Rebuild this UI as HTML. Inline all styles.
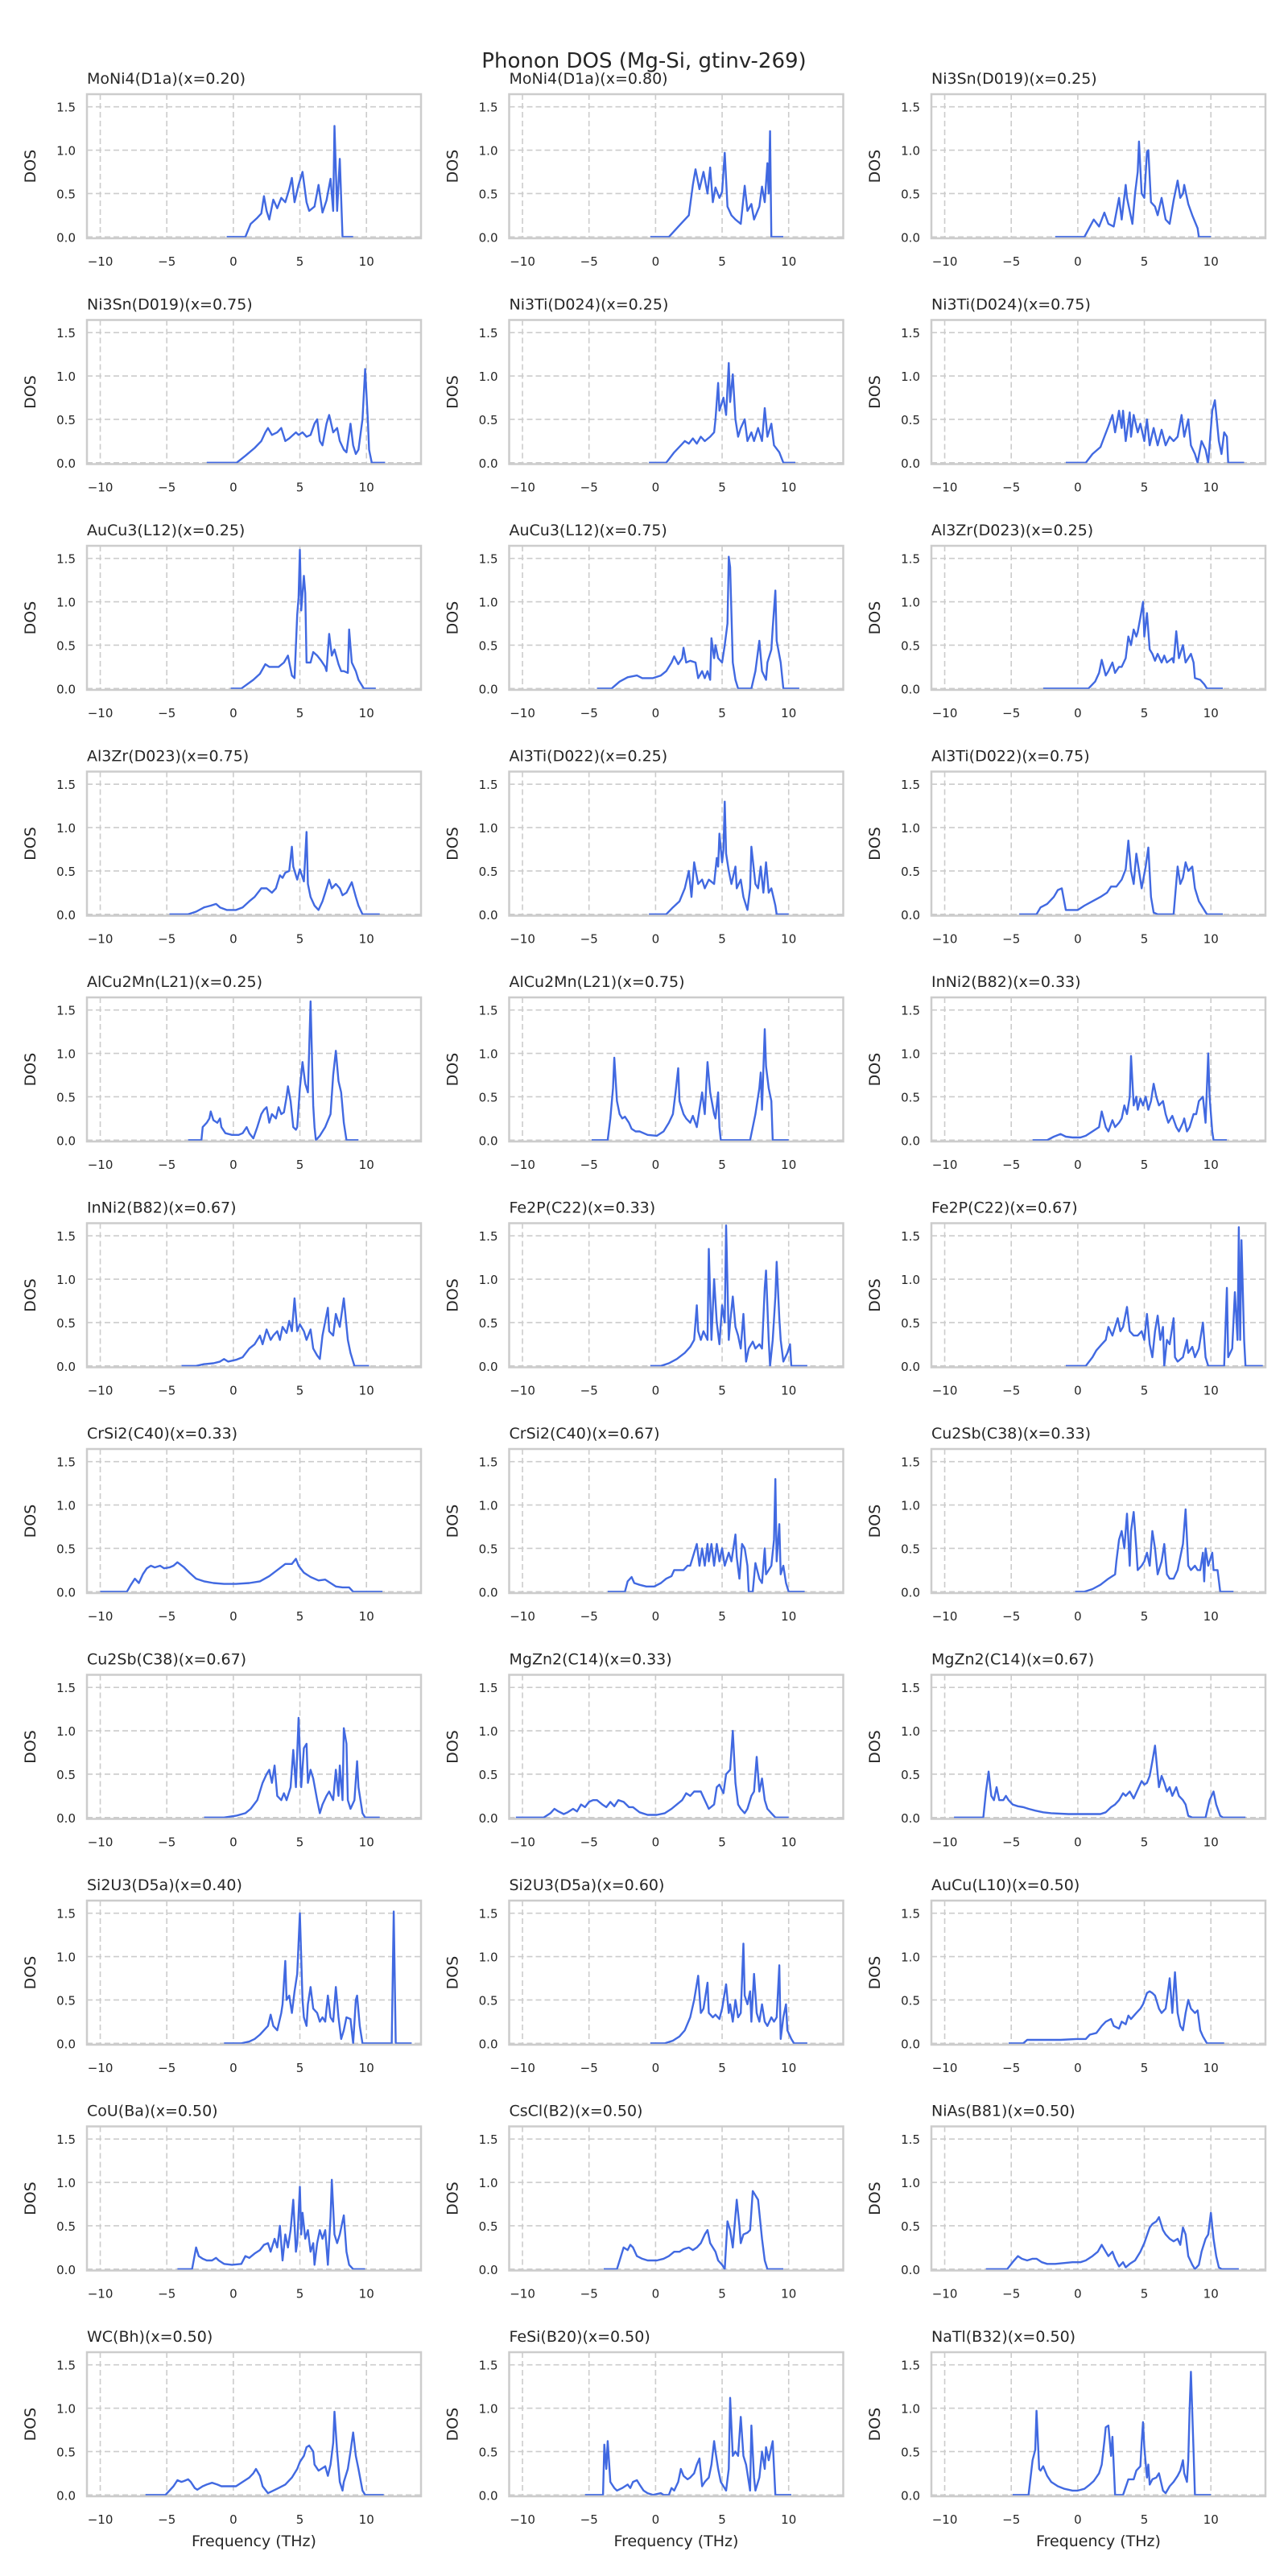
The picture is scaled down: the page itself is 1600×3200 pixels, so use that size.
<!DOCTYPE html>
<html><head><meta charset="utf-8">
<style>
html,body{margin:0;padding:0;background:#fff;}
svg{display:block;font-family:"DejaVu Sans","Liberation Sans",sans-serif;}
</style></head>
<body>
<svg id="fig" width="1600" height="3200" viewBox="0 0 1600 3200">
<rect width="1600" height="3200" fill="#ffffff"/>
<text x="800" y="84" text-anchor="middle" font-size="26" fill="#262626">Phonon DOS (Mg-Si, gtinv-269)</text>
</svg>
<script>
const titles = ["MoNi4(D1a)(x=0.20)","MoNi4(D1a)(x=0.80)","Ni3Sn(D019)(x=0.25)","Ni3Sn(D019)(x=0.75)","Ni3Ti(D024)(x=0.25)","Ni3Ti(D024)(x=0.75)","AuCu3(L12)(x=0.25)","AuCu3(L12)(x=0.75)","Al3Zr(D023)(x=0.25)","Al3Zr(D023)(x=0.75)","Al3Ti(D022)(x=0.25)","Al3Ti(D022)(x=0.75)","AlCu2Mn(L21)(x=0.25)","AlCu2Mn(L21)(x=0.75)","InNi2(B82)(x=0.33)","InNi2(B82)(x=0.67)","Fe2P(C22)(x=0.33)","Fe2P(C22)(x=0.67)","CrSi2(C40)(x=0.33)","CrSi2(C40)(x=0.67)","Cu2Sb(C38)(x=0.33)","Cu2Sb(C38)(x=0.67)","MgZn2(C14)(x=0.33)","MgZn2(C14)(x=0.67)","Si2U3(D5a)(x=0.40)","Si2U3(D5a)(x=0.60)","AuCu(L10)(x=0.50)","CoU(Ba)(x=0.50)","CsCl(B2)(x=0.50)","NiAs(B81)(x=0.50)","WC(Bh)(x=0.50)","FeSi(B20)(x=0.50)","NaTl(B32)(x=0.50)"];
const xTicks = [-10,-5,0,5,10];
const xTickLabels = ["\u221210","\u22125","0","5","10"];
const yTicks = [0,0.5,1.0,1.5];
const yTickLabels = ["0.0","0.5","1.0","1.5"];
const xDomain = [-11,14.1];
const yDomain = [-0.016,1.646];
const freqs = [
[-0.5,0.9,1.3,1.8,2.1,2.3,2.5,2.7,3.0,3.3,3.6,3.9,4.2,4.4,4.6,4.9,5.2,5.5,5.7,6.1,6.4,6.7,7.0,7.3,7.5,7.6,7.8,8.0,8.2,9.0],
[-0.4,1.0,1.9,2.5,2.8,3.0,3.3,3.6,3.9,4.1,4.3,4.5,4.8,5.0,5.2,5.4,5.7,6.0,6.4,6.7,6.9,7.2,7.4,7.8,8.0,8.2,8.4,8.5,8.6,8.7,9.6],
[-1.7,0.5,1.2,1.6,2.0,2.3,2.7,3.1,3.3,3.6,3.7,4.1,4.3,4.5,4.6,4.8,5.0,5.2,5.3,5.5,5.8,6.0,6.3,6.6,6.9,7.2,7.5,7.7,7.9,8.0,8.3,8.6,9.0,9.1,10.0],
[-2.0,0.25,0.9,1.6,2.1,2.4,2.6,2.9,3.3,3.6,3.9,4.2,4.7,4.9,5.2,5.5,5.8,6.1,6.3,6.5,6.7,7.0,7.2,7.5,7.8,8.0,8.3,8.5,8.8,9.0,9.2,9.4,9.7,9.9,10.1,10.2,10.4,11.4],
[-0.5,0.8,1.4,1.9,2.2,2.5,2.8,3.1,3.4,3.7,4.1,4.4,4.5,4.7,4.8,5.1,5.3,5.5,5.6,5.8,6.0,6.2,6.4,6.7,6.9,7.2,7.4,7.7,8.0,8.2,8.4,8.7,8.9,9.3,9.6,10.5],
[-0.9,0.6,1.1,1.7,2.0,2.3,2.6,2.8,3.1,3.3,3.4,3.6,3.9,4.0,4.2,4.5,4.7,5.0,5.2,5.4,5.7,6.0,6.3,6.6,6.9,7.2,7.5,7.8,8.0,8.3,8.5,8.8,9.0,9.3,9.6,9.8,10.1,10.3,10.6,10.8,11.0,11.2,11.3,12.5],
[-0.2,0.6,1.5,2.0,2.4,2.7,3.0,3.4,3.8,4.1,4.4,4.6,4.8,4.9,5.0,5.1,5.3,5.4,5.5,5.8,6.0,6.3,6.6,6.9,7.0,7.2,7.4,7.6,7.9,8.1,8.3,8.6,8.7,8.9,9.2,9.4,9.8,10.7],
[-4.4,-3.3,-2.7,-2.1,-1.4,-1.0,-0.2,0.4,0.8,1.2,1.4,1.7,2.0,2.1,2.3,2.6,3.0,3.2,3.5,3.7,3.9,4.1,4.2,4.4,4.5,4.7,5.0,5.2,5.4,5.5,5.6,5.8,6.0,6.2,7.2,7.5,7.8,8.0,8.3,8.4,8.7,8.8,9.0,9.1,9.4,9.6,10.8],
[-2.6,0.8,1.3,1.6,1.8,2.1,2.3,2.6,2.8,3.1,3.3,3.6,3.8,4.0,4.2,4.4,4.5,4.7,4.9,5.0,5.2,5.4,5.6,5.8,6.0,6.3,6.5,6.7,7.1,7.2,7.4,7.6,7.9,8.1,8.5,8.7,8.8,9.2,9.5,9.7,10.9],
[-4.8,-3.4,-2.8,-2.2,-1.7,-1.3,-1.0,-0.5,0.2,0.7,1.2,1.6,2.1,2.5,2.9,3.2,3.5,3.7,3.9,4.2,4.4,4.5,4.8,5.0,5.3,5.5,5.6,5.8,6.1,6.4,6.7,6.9,7.2,7.4,7.7,8.0,8.2,8.5,8.9,9.2,9.4,9.7,11.0],
[-0.5,0.8,1.3,1.8,2.2,2.5,2.7,2.9,3.2,3.5,3.7,4.0,4.4,4.6,4.7,4.8,5.0,5.1,5.2,5.3,5.5,5.7,6.0,6.1,6.4,6.6,6.9,7.1,7.2,7.5,7.7,7.9,8.1,8.3,8.5,8.7,9.0,9.1,10.0],
[-4.4,-3.1,-2.8,-2.3,-1.8,-1.5,-1.2,-0.9,-0.6,0.0,0.5,1.1,1.7,2.2,2.5,2.9,3.3,3.6,3.8,4.0,4.2,4.4,4.7,4.8,5.1,5.3,5.5,5.7,6.0,7.2,7.5,7.7,7.9,8.1,8.3,8.6,8.8,9.1,9.5,9.7,10.9],
[-3.4,-2.4,-2.3,-2.0,-1.8,-1.7,-1.5,-1.2,-1.0,-0.9,-0.6,-0.1,0.4,0.7,1.0,1.2,1.5,1.8,2.1,2.3,2.5,2.7,2.9,3.2,3.4,3.6,3.8,4.0,4.1,4.3,4.5,4.7,4.8,5.0,5.2,5.4,5.6,5.8,6.0,6.1,6.2,6.5,6.9,7.3,7.5,7.7,7.9,8.1,8.3,8.5,9.4],
[-4.8,-3.6,-3.4,-3.2,-3.1,-2.9,-2.7,-2.5,-2.3,-2.0,-1.8,-1.5,-1.2,-0.6,0.1,0.6,1.0,1.3,1.5,1.7,1.8,2.1,2.3,2.6,2.8,3.1,3.3,3.5,3.7,3.9,4.1,4.4,4.5,4.7,4.8,4.9,7.1,7.5,7.8,7.9,8.0,8.2,8.3,8.5,8.7,8.8,10.0],
[-3.4,-2.3,-1.8,-1.3,-0.9,-0.4,0.2,0.6,1.1,1.6,1.8,2.1,2.3,2.6,2.8,3.1,3.3,3.5,3.7,3.9,4.0,4.2,4.4,4.5,4.7,4.9,5.1,5.3,5.5,5.7,5.9,6.1,6.4,6.6,6.8,7.1,7.4,7.6,7.9,8.0,8.2,8.4,8.7,8.9,9.1,9.4,9.6,9.8,9.9,10.1,10.2,11.2],
[-3.9,-2.8,-2.2,-1.5,-1.0,-0.7,-0.4,0.2,0.7,1.2,1.6,2.0,2.2,2.5,2.8,3.0,3.3,3.5,3.7,4.0,4.2,4.4,4.6,4.8,5.0,5.3,5.5,5.8,6.0,6.3,6.5,6.7,7.1,7.2,7.5,7.7,8.0,8.3,8.6,8.8,9.1,10.2],
[-0.4,0.4,1.0,1.6,2.2,2.6,2.9,3.1,3.2,3.4,3.6,3.9,4.0,4.2,4.4,4.6,4.8,5.0,5.2,5.3,5.5,5.6,5.8,6.0,6.2,6.4,6.6,6.8,7.0,7.3,7.5,7.8,8.0,8.2,8.3,8.5,8.6,8.8,9.0,9.1,9.3,9.4,9.6,9.9,10.1,10.2,11.4],
[-0.9,0.6,1.1,1.4,1.8,2.1,2.3,2.6,2.8,3.0,3.2,3.4,3.7,3.9,4.2,4.5,4.8,5.0,5.2,5.4,5.6,5.8,6.0,6.2,6.4,6.5,6.7,6.9,7.2,7.3,7.5,7.9,8.2,8.3,8.6,8.8,9.1,9.4,9.6,9.8,11.0,11.2,11.3,11.6,11.8,12.0,12.1,12.2,12.3,12.5,12.6,13.9],
[-10.0,-8.0,-7.7,-7.4,-7.1,-6.8,-6.5,-6.2,-5.9,-5.5,-5.2,-4.8,-4.5,-4.2,-3.7,-3.3,-2.8,-2.2,-1.5,-0.7,0.2,1.2,2.0,2.7,3.3,3.9,4.4,4.7,4.9,5.3,5.8,6.4,6.9,7.3,7.7,8.2,8.7,9.0,11.2],
[-3.6,-2.3,-2.1,-1.8,-1.6,-1.2,-0.7,-0.1,0.4,0.8,1.2,1.4,1.8,2.1,2.4,2.6,2.9,3.1,3.3,3.5,3.7,3.9,4.0,4.2,4.4,4.6,4.8,5.0,5.2,5.5,5.7,6.0,6.1,6.3,6.5,6.7,6.9,7.0,7.3,7.5,7.8,8.0,8.2,8.3,8.5,8.7,8.9,9.0,9.1,9.3,9.4,9.6,9.8,10.0,11.2],
[-0.2,0.5,1.1,1.7,2.3,2.8,2.9,3.1,3.3,3.5,3.7,3.9,4.0,4.2,4.4,4.5,4.8,5.0,5.2,5.4,5.6,5.8,6.0,6.3,6.5,6.7,6.9,7.2,7.5,7.7,7.9,8.1,8.3,8.5,8.8,9.0,9.2,9.4,9.5,9.6,9.8,10.1,10.2,10.5,10.7,11.7],
[-2.2,-0.7,0.2,0.9,1.3,1.8,2.2,2.5,2.7,2.9,3.1,3.3,3.6,3.8,4.0,4.3,4.5,4.7,4.9,5.1,5.3,5.5,5.6,5.8,6.0,6.3,6.5,6.7,7.0,7.2,7.5,7.7,7.9,8.0,8.2,8.3,8.5,8.6,8.8,9.1,9.3,9.4,9.7,9.9,11.0],
[-10.5,-8.4,-7.9,-7.6,-7.3,-6.9,-6.6,-6.2,-5.9,-5.6,-5.3,-5.0,-4.7,-4.4,-4.0,-3.7,-3.4,-3.1,-2.8,-2.4,-2.0,-1.7,-1.2,-0.6,0.1,0.7,1.2,1.6,2.0,2.3,2.6,2.9,3.1,3.4,3.7,4.0,4.4,4.6,4.8,5.1,5.3,5.6,5.8,6.0,6.2,6.4,6.7,6.9,7.2,7.4,7.6,7.8,8.0,8.2,8.4,8.7,9.0,10.0],
[-9.3,-7.1,-6.9,-6.7,-6.5,-6.3,-6.1,-5.9,-5.6,-5.4,-5.2,-4.9,-4.5,-4.1,-3.7,-3.2,-2.6,-2.0,-0.7,1.7,2.1,2.5,2.8,3.1,3.4,3.6,3.9,4.2,4.5,4.8,5.0,5.2,5.4,5.6,5.8,6.0,6.1,6.3,6.5,6.7,6.9,7.1,7.4,7.6,7.9,8.1,8.3,8.6,9.6,9.9,10.2,10.4,10.7,10.9,12.6],
[-0.7,0.6,1.2,1.6,2.0,2.3,2.6,2.8,3.0,3.3,3.6,3.7,3.9,4.0,4.2,4.4,4.6,4.8,5.0,5.2,5.3,5.5,5.6,5.8,6.0,6.3,6.5,6.7,6.9,7.1,7.3,7.5,7.7,7.9,8.1,8.3,8.5,8.8,9.0,9.2,9.3,9.5,9.7,11.9,12.05,12.2,13.4],
[-0.4,0.7,1.3,1.8,2.2,2.6,2.9,3.2,3.4,3.6,3.9,4.0,4.3,4.5,4.8,5.0,5.3,5.5,5.6,5.8,6.0,6.2,6.4,6.6,6.7,6.9,7.1,7.2,7.4,7.6,7.8,8.0,8.2,8.4,8.7,8.9,9.1,9.3,9.4,9.6,9.8,9.9,10.2,10.4,11.4],
[-5.2,-4.1,-3.8,-2.6,-1.3,-0.1,0.6,0.9,1.4,1.8,2.1,2.5,2.7,3.1,3.3,3.6,3.8,4.0,4.4,4.7,4.9,5.2,5.4,5.6,5.8,6.1,6.3,6.6,6.7,6.9,7.1,7.3,7.5,7.7,7.9,8.1,8.3,8.5,8.8,9.0,9.2,9.4,9.7,11.0],
[-4.2,-3.1,-2.8,-2.6,-2.3,-2.0,-1.6,-1.3,-1.1,-0.7,-0.1,0.6,0.9,1.2,1.6,2.0,2.3,2.6,2.8,3.1,3.3,3.5,3.7,3.9,4.1,4.3,4.5,4.7,4.8,5.0,5.1,5.2,5.4,5.6,5.8,6.0,6.1,6.3,6.5,6.7,6.9,7.1,7.3,7.4,7.6,7.8,8.0,8.2,8.3,8.5,8.7,9.0,9.9],
[-3.9,-2.9,-2.6,-2.4,-2.1,-1.9,-1.7,-1.4,-1.0,-0.6,0.1,0.6,1.0,1.4,1.8,2.1,2.5,2.8,3.1,3.4,3.7,3.9,4.1,4.3,4.5,4.7,5.0,5.2,5.4,5.6,5.8,6.1,6.3,6.4,6.6,6.9,7.1,7.3,7.5,7.7,8.0,8.2,8.4,9.6],
[-6.9,-5.3,-4.9,-4.5,-4.2,-3.8,-3.4,-3.1,-2.7,-2.3,-1.7,-1.0,-0.4,0.2,0.6,1.1,1.5,1.8,2.1,2.3,2.6,2.8,3.1,3.4,3.6,3.9,4.3,4.7,5.0,5.4,5.6,5.9,6.1,6.4,6.6,6.9,7.2,7.5,7.7,7.9,8.1,8.3,8.6,8.8,9.1,9.3,9.6,9.8,10.0,10.2,10.4,10.6,10.8,12.1],
[-6.6,-5.1,-4.8,-4.5,-4.2,-3.9,-3.7,-3.4,-3.2,-2.9,-2.7,-2.3,-2.0,-1.6,-1.2,-0.9,-0.4,0.2,0.7,1.2,1.5,1.7,2.0,2.2,2.6,3.0,3.4,3.9,4.4,4.8,5.0,5.3,5.5,5.7,6.0,6.1,6.4,6.6,6.9,7.1,7.3,7.5,7.6,7.8,8.0,8.2,8.3,8.6,8.8,9.0,9.2,9.4,9.7,9.9,11.3],
[-5.3,-3.95,-3.85,-3.7,-3.6,-3.4,-3.1,-2.9,-2.5,-2.1,-1.9,-1.7,-1.4,-1.2,-0.9,-0.6,-0.2,0.4,0.6,1.0,1.2,1.4,1.7,1.9,2.1,2.4,2.6,2.9,3.1,3.3,3.5,3.7,4.0,4.2,4.4,4.5,4.7,4.9,5.1,5.3,5.5,5.6,5.8,6.0,6.2,6.4,6.6,6.8,6.9,7.1,7.2,7.4,7.5,7.8,8.0,8.2,8.3,8.5,8.7,8.8,9.0,10.2],
[-4.9,-3.7,-3.4,-3.2,-3.1,-2.9,-2.8,-2.6,-2.3,-2.0,-1.5,-1.0,-0.4,0.0,0.5,0.9,1.2,1.6,1.8,2.0,2.1,2.3,2.5,2.6,2.8,3.4,3.8,4.2,4.4,4.7,4.8,4.9,5.0,5.2,5.3,5.4,5.6,5.9,6.1,6.4,6.6,6.9,7.2,7.5,7.7,7.9,8.0,8.2,8.3,8.4,8.5,8.7,8.8,10.0]
];
const dos = [
[0,0,0.15,0.22,0.27,0.47,0.3,0.2,0.43,0.33,0.45,0.4,0.55,0.68,0.4,0.6,0.75,0.4,0.3,0.35,0.6,0.28,0.42,0.67,0.3,1.28,0.3,0.9,0,0],
[0,0,0.15,0.25,0.6,0.78,0.55,0.75,0.5,0.8,0.4,0.57,0.45,0.52,0.97,0.35,0.25,0.2,0.15,0.59,0.3,0.38,0.2,0.35,0.58,0.4,0.85,0.5,1.22,0,0],
[0,0,0.2,0.12,0.28,0.15,0.12,0.45,0.2,0.6,0.45,0.15,0.5,0.75,1.1,0.5,0.45,0.98,1.0,0.4,0.35,0.25,0.45,0.2,0.15,0.42,0.65,0.45,0.5,0.6,0.38,0.25,0.1,0,0],
[0,0,0.08,0.17,0.25,0.35,0.4,0.32,0.35,0.4,0.25,0.28,0.35,0.32,0.35,0.3,0.32,0.45,0.5,0.25,0.2,0.45,0.55,0.35,0.4,0.25,0.15,0.12,0.45,0.2,0.1,0.15,0.5,1.08,0.5,0.15,0,0],
[0,0,0.12,0.2,0.25,0.22,0.28,0.22,0.3,0.25,0.3,0.35,0.5,0.92,0.6,0.75,0.55,1.15,0.7,1.02,0.5,0.3,0.4,0.5,0.25,0.35,0.25,0.4,0.25,0.63,0.3,0.45,0.2,0.12,0,0],
[0,0,0.1,0.18,0.3,0.42,0.55,0.35,0.6,0.4,0.6,0.25,0.58,0.3,0.55,0.35,0.45,0.25,0.5,0.2,0.4,0.2,0.38,0.2,0.3,0.25,0.3,0.55,0.3,0.5,0.2,0.1,0,0.25,0.15,0,0.6,0.72,0.25,0.1,0.35,0.3,0,0],
[0,0,0.1,0.17,0.28,0.25,0.25,0.25,0.3,0.38,0.15,0.12,0.85,1.05,1.6,0.9,1.3,1.1,0.3,0.3,0.42,0.38,0.32,0.25,0.2,0.63,0.38,0.45,0.28,0.2,0.2,0.18,0.68,0.3,0.2,0.1,0,0],
[0,0,0.08,0.13,0.15,0.12,0.12,0.15,0.2,0.3,0.37,0.28,0.35,0.47,0.3,0.32,0.3,0.12,0.2,0.12,0.2,0.1,0.58,0.35,0.5,0.35,0.3,0.5,0.75,1.52,1.4,0.3,0.1,0,0,0.2,0.55,0.2,0.1,0.3,0.45,0.7,1.13,0.55,0.3,0,0],
[0,0,0.08,0.18,0.33,0.15,0.2,0.3,0.18,0.25,0.25,0.35,0.6,0.5,0.68,0.6,0.65,0.82,1.0,0.6,0.87,0.45,0.4,0.32,0.4,0.3,0.38,0.3,0.35,0.3,0.66,0.35,0.5,0.3,0.4,0.3,0.12,0.1,0.05,0,0],
[0,0,0.03,0.08,0.1,0.12,0.08,0.05,0.05,0.08,0.15,0.2,0.3,0.3,0.25,0.3,0.45,0.42,0.48,0.5,0.78,0.55,0.4,0.52,0.38,0.95,0.35,0.2,0.1,0.05,0.15,0.25,0.4,0.3,0.35,0.3,0.22,0.25,0.37,0.2,0.1,0,0],
[0,0,0.08,0.15,0.3,0.5,0.2,0.6,0.35,0.4,0.3,0.4,0.35,0.65,0.55,0.93,0.6,0.75,1.3,0.7,0.5,0.35,0.55,0.3,0.4,0.2,0.05,0.3,0.78,0.35,0.3,0.55,0.25,0.6,0.25,0.3,0.1,0,0],
[0,0,0.08,0.12,0.2,0.28,0.3,0.05,0.05,0.05,0.1,0.15,0.2,0.25,0.32,0.32,0.4,0.52,0.85,0.5,0.35,0.7,0.4,0.3,0.55,0.77,0.2,0.02,0,0,0.55,0.35,0.42,0.6,0.5,0.55,0.3,0.15,0.05,0,0],
[0,0,0.15,0.2,0.25,0.33,0.23,0.2,0.25,0.15,0.08,0.06,0.06,0.08,0.15,0.08,0.02,0.15,0.3,0.35,0.38,0.2,0.3,0.25,0.38,0.3,0.32,0.5,0.62,0.45,0.15,0.12,0.15,0.6,0.9,0.65,0.55,1.6,0.4,0.15,0,0.05,0.15,0.3,0.75,1.03,0.68,0.55,0.2,0,0],
[0,0,0.25,0.6,0.95,0.45,0.3,0.25,0.27,0.2,0.13,0.1,0.1,0.06,0.05,0.1,0.2,0.3,0.55,0.83,0.45,0.3,0.25,0.2,0.28,0.15,0.35,0.55,0.3,0.9,0.55,0.3,0.25,0.55,0.15,0,0,0.3,0.6,0.78,0.35,1.28,0.85,0.6,0.45,0,0],
[0,0,0.04,0.07,0.04,0.03,0.03,0.05,0.1,0.15,0.33,0.15,0.1,0.23,0.15,0.2,0.25,0.4,0.3,0.5,0.97,0.4,0.5,0.35,0.48,0.4,0.5,0.35,0.45,0.65,0.5,0.4,0.45,0.3,0.2,0.28,0.15,0.1,0.2,0.25,0.1,0.15,0.3,0.3,0.45,0.5,0.2,1.0,0.5,0.1,0,0],
[0,0,0.02,0.03,0.05,0.08,0.05,0.07,0.1,0.2,0.25,0.35,0.25,0.42,0.3,0.35,0.4,0.3,0.45,0.38,0.52,0.4,0.78,0.4,0.48,0.4,0.3,0.42,0.2,0.12,0.08,0.35,0.67,0.4,0.35,0.6,0.45,0.78,0.3,0.15,0,0],
[0,0,0.03,0.08,0.15,0.22,0.3,0.7,0.4,0.3,0.4,0.3,1.35,0.3,1.0,0.5,0.25,0.7,0.5,1.62,0.3,0.5,0.8,0.45,0.35,0.2,0.6,0.05,0.2,0.28,0.2,0.25,0.2,0.9,1.1,0.3,0,0.3,0.8,1.2,0.55,0.3,0.05,0.15,0.25,0,0],
[0,0,0.1,0.18,0.25,0.3,0.45,0.35,0.45,0.55,0.4,0.45,0.68,0.4,0.35,0.35,0.4,0.3,0.6,0.25,0.1,0.4,0.58,0.3,0.45,0,0.3,0.25,0.55,0.1,0.05,0.1,0.3,0.15,0.22,0.1,0.2,0.5,0.1,0,0,0.9,0.1,0.2,0.85,0.3,1.6,0.3,1.45,0.3,0,0],
[0,0,0.08,0.15,0.1,0.2,0.27,0.3,0.28,0.3,0.27,0.28,0.3,0.34,0.28,0.22,0.15,0.12,0.1,0.09,0.09,0.1,0.12,0.18,0.25,0.32,0.32,0.38,0.3,0.22,0.17,0.13,0.14,0.1,0.06,0.05,0.05,0,0],
[0,0,0.12,0.17,0.1,0.08,0.06,0.06,0.1,0.15,0.18,0.25,0.25,0.25,0.3,0.3,0.45,0.55,0.3,0.5,0.3,0.55,0.35,0.55,0.3,0.55,0.35,0.5,0.3,0.45,0.35,0.66,0.4,0.15,0.55,0.5,0.3,0,0,0.33,0.15,0.1,0.5,0.2,0.25,0.3,0.6,1.3,0.35,0.78,0.2,0.3,0.1,0,0],
[0,0,0.03,0.08,0.15,0.2,0.35,0.6,0.7,0.5,0.9,0.3,0.7,0.92,0.5,0.25,0.3,0.35,0.45,0.3,0.7,0.5,0.2,0.35,0.55,0.2,0.15,0.15,0.25,0.4,0.55,0.95,0.3,0.25,0.3,0.25,0.25,0.45,0.12,0.5,0.3,0.45,0.25,0.25,0,0],
[0,0,0.02,0.05,0.1,0.2,0.4,0.5,0.55,0.4,0.6,0.25,0.2,0.28,0.2,0.35,0.78,0.35,1.15,0.35,0.8,0.85,0.4,0.55,0.45,0.2,0.05,0.15,0.25,0.3,0.2,0.55,0.25,0.6,0.2,1.03,0.85,0.2,0.1,0.2,0.65,0.35,0.05,0,0],
[0,0,0.05,0.1,0.07,0.04,0.06,0.1,0.07,0.15,0.12,0.18,0.2,0.2,0.15,0.12,0.18,0.13,0.2,0.18,0.12,0.12,0.06,0.03,0.03,0.05,0.1,0.15,0.2,0.28,0.25,0.3,0.3,0.3,0.2,0.1,0.15,0.35,0.38,0.28,0.5,0.55,1.0,0.4,0.15,0.1,0.05,0.1,0.25,0.3,0.7,0.3,0.45,0.2,0.1,0.05,0,0],
[0,0,0.3,0.53,0.25,0.2,0.35,0.2,0.2,0.25,0.2,0.15,0.13,0.12,0.1,0.08,0.06,0.05,0.04,0.04,0.06,0.12,0.15,0.2,0.28,0.25,0.3,0.22,0.32,0.42,0.38,0.4,0.48,0.65,0.83,0.5,0.35,0.48,0.4,0.3,0.35,0.25,0.35,0.25,0.2,0.15,0.02,0,0,0.2,0.3,0.15,0.02,0,0],
[0,0,0.02,0.05,0.1,0.15,0.2,0.33,0.2,0.15,0.35,0.45,0.95,0.5,0.55,0.35,0.6,0.8,1.5,0.5,0.3,0.2,0.45,0.65,0.4,0.35,0.25,0.3,0.25,0.55,0.3,0.25,0.65,0.3,0.05,0.15,0.3,0.28,0,0.5,0.55,0.2,0,0,1.52,0,0],
[0,0,0.03,0.08,0.15,0.3,0.5,0.78,0.35,0.4,0.7,0.35,0.3,0.33,0.28,0.4,0.68,0.35,0.45,0.25,0.5,0.3,0.35,1.15,0.55,0.45,0.6,0.25,0.8,0.35,0.25,0.45,0.25,0.2,0.3,0.25,0.3,0.9,0.05,0.3,0.45,0.15,0.05,0,0],
[0,0,0.04,0.04,0.04,0.05,0.05,0.1,0.12,0.2,0.25,0.28,0.2,0.17,0.25,0.22,0.32,0.28,0.35,0.4,0.45,0.58,0.6,0.58,0.55,0.4,0.35,0.4,0.5,0.75,0.35,0.82,0.35,0.2,0.15,0.35,0.5,0.4,0.35,0.38,0.15,0.08,0,0],
[0,0,0.25,0.15,0.12,0.1,0.1,0.13,0.1,0.06,0.05,0.06,0.15,0.13,0.18,0.22,0.28,0.3,0.2,0.35,0.25,0.5,0.1,0.4,0.25,0.45,0.8,0.2,0.3,0.95,0.4,0.65,0.35,0.45,0.2,0.3,0.05,0.3,0.45,0.35,0.45,0.05,0.6,1.03,0.4,0.3,0.4,0.55,0.62,0.2,0.05,0,0],
[0,0,0.15,0.25,0.22,0.28,0.25,0.15,0.12,0.1,0.1,0.12,0.15,0.2,0.2,0.23,0.25,0.22,0.25,0.3,0.4,0.45,0.3,0.25,0.2,0.1,0.05,0,0.55,0.45,0.25,0.8,0.5,0.3,0.4,0.42,0.45,0.9,0.85,0.8,0.35,0.1,0,0],
[0,0,0.08,0.15,0.12,0.1,0.12,0.12,0.08,0.06,0.06,0.07,0.08,0.08,0.1,0.15,0.2,0.28,0.2,0.15,0.2,0.12,0.03,0.08,0.02,0.06,0.1,0.2,0.3,0.48,0.52,0.55,0.6,0.45,0.4,0.35,0.32,0.35,0.28,0.48,0.4,0.15,0.05,0,0.05,0.2,0.35,0.4,0.65,0.35,0.15,0.02,0,0],
[0,0,0.05,0.1,0.17,0.15,0.16,0.18,0.15,0.08,0.06,0.1,0.12,0.14,0.12,0.1,0.1,0.1,0.15,0.2,0.25,0.3,0.22,0.1,0.02,0.05,0.08,0.12,0.2,0.3,0.38,0.45,0.55,0.57,0.5,0.35,0.28,0.3,0.33,0.22,0.35,0.6,0.96,0.5,0.15,0.05,0.15,0.3,0.5,0.72,0.45,0.3,0.05,0,0],
[0,0,0.58,0.3,0.62,0.15,0.08,0.05,0.08,0.12,0.08,0.15,0.17,0.12,0.05,0.02,0,0.02,0,0,0.08,0.05,0.15,0.3,0.22,0.18,0.2,0.25,0.35,0.42,0.1,0.15,0.2,0.35,0.62,0.5,0.3,0.15,0.1,0.05,0.3,1.12,0.45,0.5,0.45,0.9,0.45,0.35,0.25,0.05,0.8,0.2,0.05,0.2,0.5,0.3,0.55,0.4,0.55,0.62,0,0],
[0,0,0.4,0.52,0.97,0.3,0.28,0.33,0.22,0.15,0.1,0.07,0.05,0.05,0.07,0.12,0.16,0.25,0.35,0.62,0.78,0.8,0.45,0.67,0,0,0.18,0.18,0.28,0.33,0.6,0.84,0.55,0.2,0.35,0.12,0.18,0.2,0.25,0.05,0.02,0.1,0.15,0.22,0.28,0.4,0.25,0.15,0.4,1.0,1.42,0.5,0,0]
];

const svgNS = "http://www.w3.org/2000/svg";
const fig = document.getElementById('fig');
const colLeft = [108, 632.5, 1157];
const axW = 415, axH = 179, rowTop0 = 117, rowStep = 280.5;

function mk(tag, attrs, parent) {
  const e = document.createElementNS(svgNS, tag);
  for (const k in attrs) e.setAttribute(k, attrs[k]);
  parent.appendChild(e);
  return e;
}
function xScale(v, left) { return left + (v - xDomain[0]) / (xDomain[1] - xDomain[0]) * axW; }
function yScale(v, top) { return top + axH - (v - yDomain[0]) / (yDomain[1] - yDomain[0]) * axH; }

const nRows = 11;
titles.forEach(function(title, i) {
  const r = Math.floor(i / 3), c = i % 3;
  const left = colLeft[c], top = rowTop0 + r * rowStep;
  const g = mk('g', {}, fig);
  
  

  const frameBg = mk('rect', {x: left, y: top, width: axW, height: axH, fill: '#ffffff'}, g);
  
  

  xTicks.forEach(function(t, k) {
    const x = xScale(t, left);
    const gl = mk('line', {x1: x, x2: x, y1: top, y2: top + axH, stroke: '#cccccc', 'stroke-width': 1.6, 'stroke-dasharray': '7,4'}, g);
    
    
    const tl = mk('text', {x: x, y: top + axH + 34, 'text-anchor': 'middle', 'font-size': 15, fill: '#262626'}, g);
    tl.textContent = xTickLabels[k];
    
    
  });
  yTicks.forEach(function(t, k) {
    const y = yScale(t, top);
    const gl = mk('line', {x1: left, x2: left + axW, y1: y, y2: y, stroke: '#cccccc', 'stroke-width': 1.6, 'stroke-dasharray': '7,4'}, g);
    
    
    const tl = mk('text', {x: left - 14, y: y + 6, 'text-anchor': 'end', 'font-size': 15, fill: '#262626'}, g);
    tl.textContent = yTickLabels[k];
    
    
  });

  const fs = freqs[i], ds = dos[i];
  const n = Math.min(fs.length, ds.length);
  let dstr = '';
  for (let k = 0; k < n; k++) {
    dstr += (k === 0 ? 'M' : 'L') + xScale(fs[k], left).toFixed(1) + ',' + yScale(ds[k], top).toFixed(1);
  }
  const line = mk('path', {d: dstr, fill: 'none', stroke: '#4169e1', 'stroke-width': 2.4, 'stroke-linejoin': 'round'}, g);
  
  

  const frame = mk('rect', {x: left, y: top, width: axW, height: axH, fill: 'none', stroke: '#cccccc', 'stroke-width': 2.5}, g);
  
  

  const tt = mk('text', {x: left, y: top - 13, 'font-size': 19, fill: '#262626'}, g);
  tt.textContent = title;
  
  

  const yl = mk('text', {x: 0, y: 0, 'text-anchor': 'middle', 'font-size': 19, fill: '#262626', transform: 'translate(' + (left - 64) + ',' + (top + axH / 2) + ') rotate(-90)'}, g);
  yl.textContent = 'DOS';
  
  

  if (r === nRows - 1) {
    const xl = mk('text', {x: left + axW / 2, y: 3163, 'text-anchor': 'middle', 'font-size': 19, fill: '#262626'}, g);
    xl.textContent = 'Frequency (THz)';
    
    
  }
});
</script>
</body></html>
